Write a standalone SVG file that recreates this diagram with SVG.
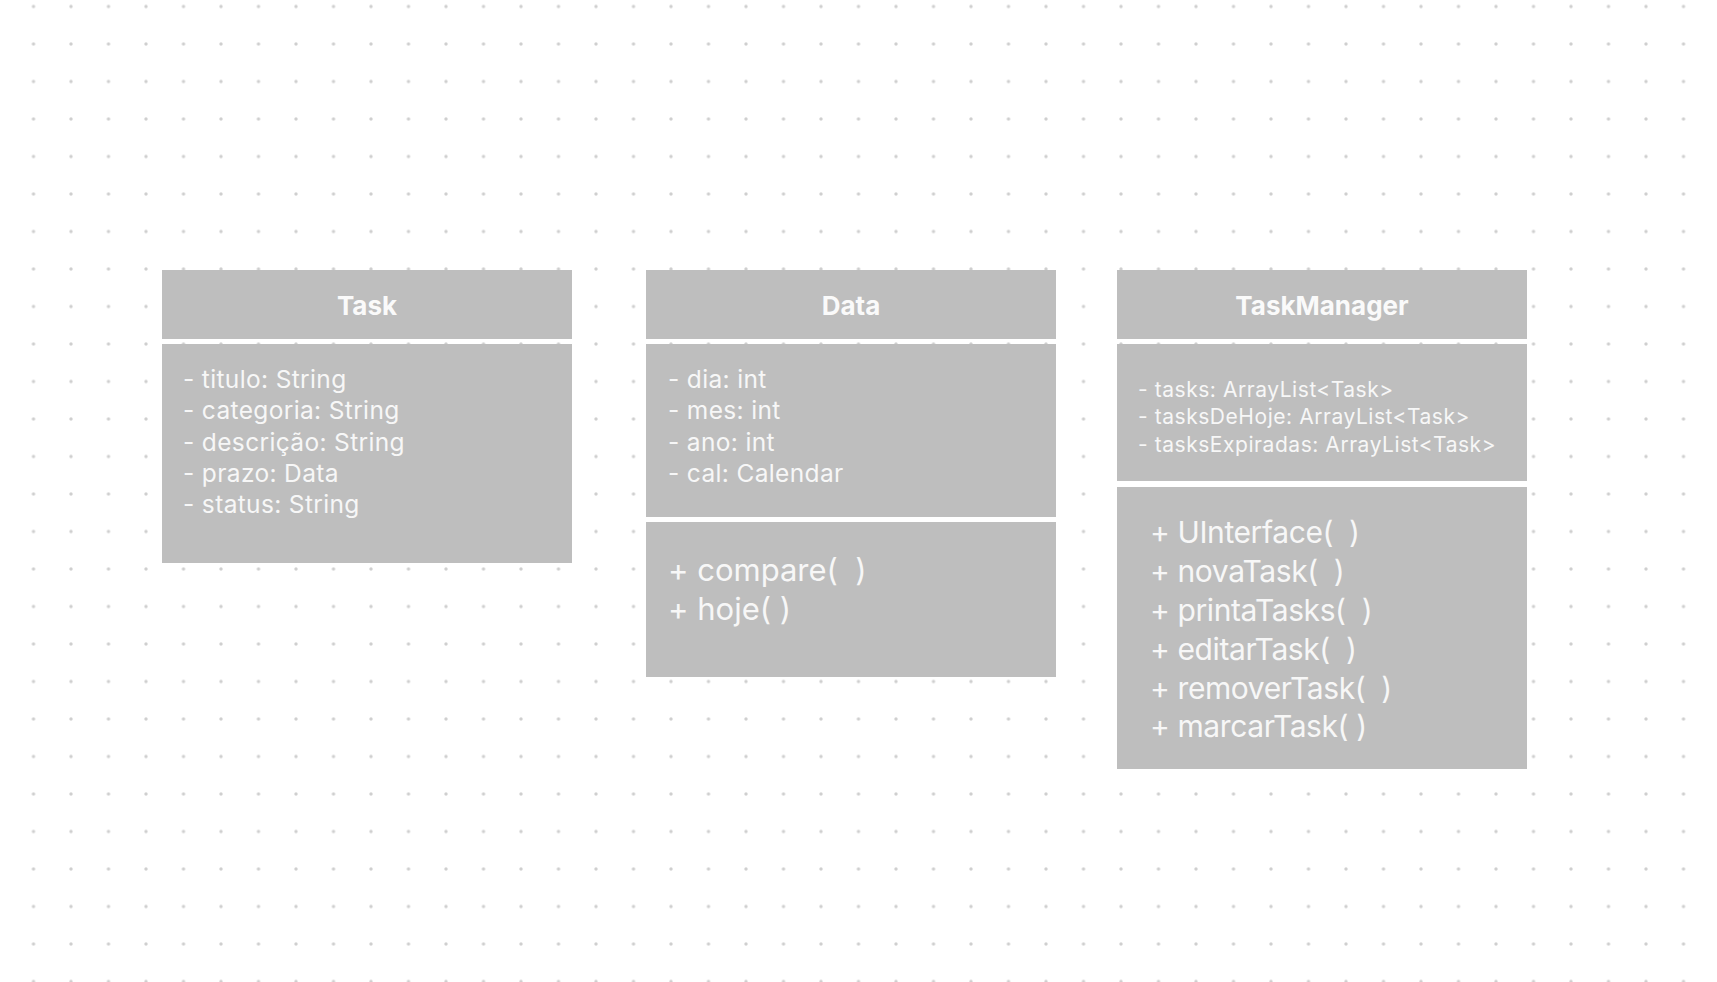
<svg xmlns="http://www.w3.org/2000/svg" width="1717" height="982" viewBox="0 0 1717 982">
<defs>
<pattern id="dots" x="14.75" y="-12.25" width="37.5" height="37.5" patternUnits="userSpaceOnUse">
<circle cx="18.75" cy="18.75" r="1.7" fill="#cfcfcf"/>
</pattern>
<style>
.box{fill:#bebebe}
text{white-space:pre}
.hdr{font-family:Inter,"Noto Sans",sans-serif;font-weight:700;font-size:26px;fill:#fafafa;text-anchor:middle}
.attr{font-family:Inter,"Noto Sans",sans-serif;font-size:24.5px;letter-spacing:0.35px;fill:#f7f7f7}
.attr-s{font-family:Inter,"Noto Sans",sans-serif;font-size:21px;letter-spacing:0.55px;fill:#f7f7f7}
.meth{font-family:Inter,"Noto Sans",sans-serif;font-size:30px;letter-spacing:-0.4px;fill:#f7f7f7}
.meth-l{font-family:Inter,"Noto Sans",sans-serif;font-size:31px;letter-spacing:0px;fill:#f7f7f7}
</style>
</defs>
<rect width="1717" height="982" fill="#ffffff"/>
<rect width="1717" height="982" fill="url(#dots)"/>

<g id="task">
<rect class="box" x="162" y="270" width="410" height="69"/>
<text class="hdr" x="367" y="315">Task</text>
<rect class="box" x="162" y="344" width="410" height="219"/>
<text class="attr" x="183" y="388">- titulo: String</text>
<text class="attr" x="183" y="419">- categoria: String</text>
<text class="attr" x="183" y="451">- descrição: String</text>
<text class="attr" x="183" y="482">- prazo: Data</text>
<text class="attr" x="183" y="513">- status: String</text>
</g>

<g id="data">
<rect class="box" x="646" y="270" width="410" height="69"/>
<text class="hdr" x="851" y="315">Data</text>
<rect class="box" x="646" y="344" width="410" height="173"/>
<text class="attr" x="668" y="388">- dia: int</text>
<text class="attr" x="668" y="419">- mes: int</text>
<text class="attr" x="668" y="451">- ano: int</text>
<text class="attr" x="668" y="482">- cal: Calendar</text>
<rect class="box" x="646" y="522" width="410" height="155"/>
<text class="meth-l" x="668" y="581">+ compare(  )</text>
<text class="meth-l" x="668" y="620">+ hoje( )</text>
</g>

<g id="taskmanager">
<rect class="box" x="1117" y="270" width="410" height="69"/>
<text class="hdr" x="1322" y="315">TaskManager</text>
<rect class="box" x="1117" y="344" width="410" height="137"/>
<text class="attr-s" x="1138" y="397">- tasks: ArrayList&lt;Task&gt;</text>
<text class="attr-s" x="1138" y="424">- tasksDeHoje: ArrayList&lt;Task&gt;</text>
<text class="attr-s" x="1138" y="452">- tasksExpiradas: ArrayList&lt;Task&gt;</text>
<rect class="box" x="1117" y="487" width="410" height="282"/>
<text class="meth" x="1150" y="543">+ UInterface(  )</text>
<text class="meth" x="1150" y="582">+ novaTask(  )</text>
<text class="meth" x="1150" y="621">+ printaTasks(  )</text>
<text class="meth" x="1150" y="660">+ editarTask(  )</text>
<text class="meth" x="1150" y="699">+ removerTask(  )</text>
<text class="meth" x="1150" y="737">+ marcarTask( )</text>
</g>

<g id="connectors"></g>
</svg>
